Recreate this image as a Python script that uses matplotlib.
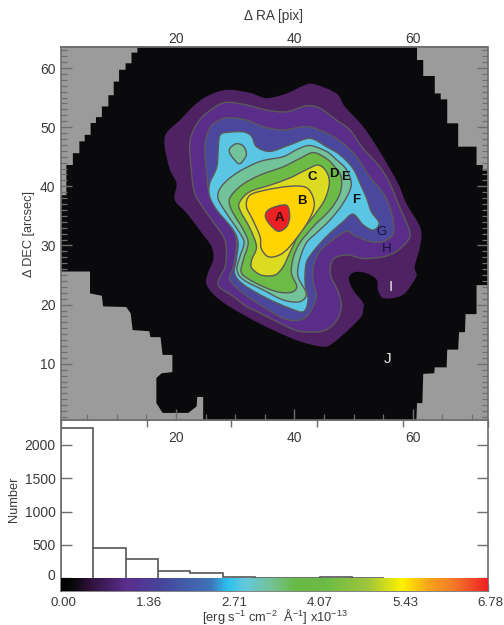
import numpy as np
import matplotlib
matplotlib.use("Agg")
import matplotlib.pyplot as plt
from matplotlib.patches import Polygon, PathPatch
from matplotlib.path import Path
from matplotlib.colors import LinearSegmentedColormap
from matplotlib.transforms import ScaledTranslation
from matplotlib.ticker import MultipleLocator, FixedLocator

plt.rcParams['font.family'] = ['Liberation Sans', 'DejaVu Sans']
plt.rcParams['mathtext.fontset'] = 'custom'
plt.rcParams['mathtext.rm'] = 'Liberation Sans'
plt.rcParams['mathtext.default'] = 'rm'

# Field of view (staircase outline of the observed region), RA pix / DEC arcsec
field_outline = [(13.5,63.6),(13.5,62.6),(12.5,62.6),(12.5,60.8),(11.5,60.8),(11.5,59.7),(10.4,59.7),(10.4,57.7),
    (9.5,57.7),(9.5,55.4),(8.6,55.4),(8.6,53.5),(7.5,53.5),(7.5,51.7),(6.5,51.7),(6.5,50.7),(5.6,50.7),(5.6,48.7),
    (4.6,48.7),(4.6,47.6),(3.7,47.6),(3.7,45.6),(2.6,45.6),(2.6,43.6),(1.5,43.6),(1.5,38.5),(0.6,38.5),(0.6,25.6),
    (5.5,25.6),(5.5,21.9),(7.5,21.5),(7.7,19.7),(11.6,19.6),(12.35,18.55),(12.7,15.7),(15.5,15.5),(15.7,14.5),
    (17.4,14.5),(17.75,11.5),(19.4,11.5),(19.4,8.6),(17.6,8.4),(16.7,7.6),(16.7,3.35),(17.75,1.7),(22.1,1.7),
    (23.5,2.8),(23.6,4.4),(24.6,4.4),(24.6,0.5),(60.6,0.5),(60.7,3.35),(61.6,3.35),(61.75,8.3),(63.6,8.4),(63.7,9.4),
    (65.7,9.4),(65.8,12.4),(67.65,12.4),(67.8,15.35),(68.8,15.35),(68.9,18.4),(70.75,18.4),(70.75,23.3),(72.6,23.3),
    (72.6,42.65),(71.8,42.65),(71.8,43.6),(70.75,43.6),(70.75,46.7),(67.65,46.7),(67.65,50.65),(65.8,50.65),
    (65.8,54.7),(64.7,54.7),(64.7,55.7),(63.7,55.7),(63.7,58.65),(61.75,58.65),(61.75,61.35),(60.7,61.35),(60.7,63.6)]

# Contour levels, outermost to innermost
level_1 = [(43.2,57.3),(47.1,55.7),(48.5,53.5),(51.6,50.1),(54.4,45.9),(57.5,40.5),(58.9,37.1),(61.3,32.9),(61.2,29.8),
    (60.3,26.4),(60.6,24.8),(58.9,22.2),(57.5,21.3),(55.0,21.1),(54.1,22.5),(53.9,24.2),(52.2,25.3),(50.2,25.5),
    (49.2,24.5),(49.9,22.5),(51.6,20.3),(51.6,19.1),(51.3,18.0),(49.4,16.0),(46.5,13.5),(44.8,12.9),(40.9,13.8),
    (36.4,15.7),(31.9,18.0),(27.4,20.8),(25.2,23.3),(25.4,25.3),(26.3,27.6),(26.0,29.8),(24.0,32.6),(21.8,35.5),
    (19.8,37.7),(20.1,40.5),(19.0,42.8),(18.1,46.7),(18.4,49.0),(20.7,51.2),(22.9,53.5),(25.2,55.2),(28.5,56.3),
    (32.5,55.8),(35.3,54.9),(38.7,55.7),(41.5,57.0)]
level_2 = [(28.5,54.2),(31.9,53.75),(35.3,52.9),(38.7,52.6),(42.0,53.6),(44.3,53.2),(47.1,51.2),(49.4,49.5),(51.6,46.4),
    (54.4,43.3),(56.1,40.5),(57.5,37.1),(59.4,32.6),(59.2,30.9),(57.2,29.0),(55.0,28.1),(51.6,27.8),(48.8,28.4),
    (46.5,27.6),(46.1,25.0),(47.4,22.2),(47.9,19.4),(46.8,16.9),(44.6,15.5),(40.9,15.5),(38.1,16.6),(34.2,18.6),
    (31.9,19.7),(29.7,21.4),(27.1,23.4),(28.3,26.4),(28.5,29.3),(28.0,31.5),(25.2,35.5),(23.2,38.8),(22.6,42.8),
    (22.4,47.8),(24.0,51.2),(26.3,53.2)]
level_3 = [(29.1,51.6),(31.9,51.2),(34.7,50.1),(38.1,49.5),(42.0,50.1),(45.4,49.0),(48.2,47.3),(50.5,45.0),(52.7,41.6),
    (55.0,38.8),(56.4,35.5),(56.7,32.1),(55.0,30.7),(52.7,30.7),(49.9,31.8),(48.8,32.4),(46.5,31.0),(44.3,29.0),
    (43.2,26.4),(43.2,23.6),(43.7,21.4),(42.6,18.6),(40.9,17.4),(38.1,17.7),(34.2,20.0),(31.4,21.9),(29.1,24.2),
    (29.7,26.4),(30.2,29.8),(29.9,32.1),(27.7,35.5),(25.7,38.8),(25.2,42.2),(24.9,46.7),(25.7,49.8),(27.4,51.2)]
level_4 = [(28.5,49.1),(31.4,49.2),(32.8,48.4),(33.6,46.7),(35.9,45.9),(39.2,47.0),(42.6,48.1),(45.4,46.7),(47.7,45.3),
    (49.9,43.0),(51.3,40.0),(52.2,38.0),(53.0,35.7),(54.3,33.8),(53.3,32.6),(51.6,33.5),(49.9,35.3),(48.2,34.0),
    (45.4,31.5),(43.2,29.0),(42.0,27.0),(41.8,23.6),(42.3,20.8),(41.5,18.8),(39.2,19.4),(35.3,21.1),(31.4,23.4),
    (29.9,25.3),(30.2,27.6),(30.5,30.4),(29.7,32.6),(26.9,36.0),(25.7,38.3),(25.7,40.5),(26.9,43.3),(27.2,47.3),(27.5,48.7)]
level_5_blob = [(29.1,46.4),(30.2,47.2),(31.4,46.8),(31.9,45.6),(31.6,44.7),(30.7,43.8),(29.7,44.7),(29.1,45.6)]
level_5 = [(42.6,46.9),(45.4,45.9),(47.1,44.5),(48.8,42.8),(49.6,40.2),(48.2,37.1),(46.0,34.3),(43.7,32.1),(42.0,30.4),
    (40.9,27.6),(40.6,24.8),(42.0,21.9),(40.9,20.5),(38.1,20.8),(34.7,22.5),(31.4,24.2),(30.3,25.9),(30.8,28.1),
    (31.5,30.4),(30.8,32.1),(28.5,35.5),(27.1,38.0),(27.7,40.0),(30.2,42.2),(34.2,44.2),(38.1,45.0),(40.4,46.2)]
level_6 = [(43.2,45.7),(45.4,44.7),(46.8,43.3),(47.9,41.6),(47.7,38.8),(46.0,36.0),(43.2,33.2),(40.9,30.4),(39.8,27.9),
    (39.5,25.3),(40.4,23.1),(39.5,22.1),(37.0,22.2),(33.6,23.6),(31.1,25.3),(31.4,27.6),(32.2,30.4),(31.4,32.6),
    (29.4,36.0),(29.1,38.0),(31.1,40.2),(34.2,41.9),(38.1,43.3),(40.9,44.7)]
level_7 = [(44.0,43.6),(45.4,42.5),(45.9,40.5),(45.1,37.7),(43.2,34.9),(40.9,32.1),(39.2,28.7),(38.1,26.4),(36.7,25.0),
    (34.4,25.0),(32.8,26.2),(32.8,27.6),(33.6,29.8),(32.5,32.9),(30.8,36.0),(30.8,37.4),(32.5,39.1),(35.9,40.2),
    (39.2,41.4),(42.0,42.8)]
level_8 = [(39.2,40.0),(42.0,39.8),(43.2,38.0),(43.2,36.0),(41.8,33.2),(39.2,29.8),(37.5,28.4),(35.6,28.1),(34.4,29.5),
    (34.2,31.5),(33.0,34.3),(31.9,36.6),(32.5,38.5),(35.3,39.4)]
level_9 = [(35.6,36.0),(37.3,36.7),(38.8,36.7),(39.2,34.9),(38.7,33.2),(37.3,32.4),(35.9,33.5),(35.1,34.9)]

levels = [level_1, level_2, level_3, level_4, level_5, level_5_blob, level_6, level_7, level_8, level_9]
level_colors = ['#4f2363', '#5a2d8a', '#4a479c', '#5bc6e4', '#72c39a', '#72c39a',
                '#6bbb46', '#dbdc22', '#ffd400', '#ed2024']

region_names = ['A', 'B', 'C', 'D', 'E', 'F', 'G', 'H', 'I', 'J']
region_x = [37.55, 41.2, 43.05, 46.65, 48.6, 50.5, 54.7, 55.65, 56.3, 55.7]
region_y = [34.6, 37.6, 41.6, 42.1, 41.6, 37.7, 32.2, 29.4, 23.0, 10.8]
region_colors = ['#2a1010', '#111111', '#111111', '#111111', '#111111', '#111111', '#14143a', '#14143a', '#e8e8e8', '#e8e8e8']
region_weights = ['bold'] * 6 + ['normal'] * 4

# Ticks
ra_ticks = [20, 40, 60]
dec_ticks = [10, 20, 30, 40, 50, 60]

# Histogram
hist_counts = [2260, 450, 295, 105, 75, 25, 12, 8, 18, 10]
hist_bin_width = 0.514
cbar_ticks = [0.00, 1.36, 2.71, 4.07, 5.43, 6.78]
cbar_labels = ['0.00', '1.36', '2.71', '4.07', '5.43', '6.78']
hist_y_ticks = [0, 500, 1000, 1500, 2000]

cmap_nodes = [(0.0, '#000000'), (0.03, '#0a0a0c'), (0.06, '#2a0f33'), (0.15, '#5a2d8c'), (0.24, '#46479c'),
              (0.35, '#3f74b8'), (0.39, '#2cc0ee'), (0.43, '#62c8dc'), (0.49, '#74c39a'), (0.55, '#69b945'),
              (0.62, '#6bbb46'), (0.72, '#a0c63c'), (0.80, '#fff200'), (0.86, '#f9a61a'), (0.92, '#f47a2a'),
              (1.0, '#ed2024')]

W, H = 504, 625
INK = '#3a3a3a'
EDGE = '#6e6e6e'
FS = 10

fig = plt.figure(figsize=(W / 100, H / 100), dpi=100)
ax = fig.add_axes([61 / W, 1 - 420 / H, 426.5 / W, 373 / H])
ax.set_zorder(3)
ax.set_xlim(0.6, 72.6)
ax.set_ylim(0.5, 63.55)
ax.set_facecolor('#9b9b9b')


def smooth_path(pts):
    # closed Catmull-Rom curve through the traced outline points
    p = np.asarray(pts, float)
    prev, nxt, nxt2 = np.roll(p, 1, axis=0), np.roll(p, -1, axis=0), np.roll(p, -2, axis=0)
    c1 = p + (nxt - prev) / 6
    c2 = nxt - (nxt2 - p) / 6
    verts = [p[0]]
    codes = [Path.MOVETO]
    for a, b, e in zip(c1, c2, nxt):
        verts += [a, b, e]
        codes += [Path.CURVE4] * 3
    return Path(verts, codes)


ax.add_patch(Polygon(field_outline, closed=True, fc='#0a0a0d', ec='none', zorder=1))
for i, (pts, col) in enumerate(zip(levels, level_colors)):
    ec = 'none' if i == 0 else '#5a5a5a'
    ax.add_patch(PathPatch(smooth_path(pts), fc=col, ec=ec, lw=1.0, zorder=1 + i * 0.01))
for n, x, y, c, w in zip(region_names, region_x, region_y, region_colors, region_weights):
    ax.text(x, y, n, color=c, fontsize=11 if n in 'IJ' else 9.5, fontweight=w, ha='center', va='center', zorder=3)

ax.xaxis.set_major_locator(FixedLocator(ra_ticks))
ax.xaxis.set_minor_locator(MultipleLocator(5))
ax.yaxis.set_major_locator(FixedLocator(dec_ticks))
ax.yaxis.set_minor_locator(MultipleLocator(1))
ax.tick_params(axis='y', which='major', direction='in', length=8, width=1, color=EDGE, labelcolor=INK,
               labelsize=FS, left=True, right=True, pad=4)
ax.tick_params(axis='x', which='major', direction='in', length=8, width=1, color=EDGE, labelcolor=INK,
               labelsize=FS, bottom=True, top=False, pad=8)
ax.tick_params(which='minor', direction='in', length=4, width=0.9, color=EDGE, left=True, right=True, bottom=True, top=False)
for s in ax.spines.values():
    s.set_color(EDGE)
    s.set_linewidth(1.2)
top = ax.secondary_xaxis('top')
top.xaxis.set_major_locator(FixedLocator(ra_ticks))
top.tick_params(axis='x', direction='in', length=8, width=1, color=EDGE, labelcolor=INK, labelsize=FS, pad=1)
top.spines['top'].set_color(EDGE)
top.spines['top'].set_linewidth(1.2)
fig.text(273 / W, 1 - 16 / H, 'Δ RA [pix]', fontsize=9.8, color=INK, ha='center', va='center')
fig.text(29 / W, 1 - 234 / H, 'Δ DEC [arcsec]', fontsize=9.2, color=INK, ha='center', va='center', rotation=90)

ah = fig.add_axes([61 / W, 1 - 591 / H, 426.5 / W, 171 / H])
ah.set_xlim(0, 6.78)
ah.set_ylim(-190, 2375)
edges = np.arange(len(hist_counts) + 1) * hist_bin_width
ah.stairs(hist_counts, edges, baseline=0, fill=False, color='#555555', lw=1.2, zorder=2)
ah.vlines(edges[1:4], 0, [min(a, b) for a, b in zip(hist_counts[:3], hist_counts[1:4])], color='#555555', lw=1.2, zorder=2)

cmap = LinearSegmentedColormap.from_list('idl', cmap_nodes, N=512)
ah.imshow(np.linspace(0, 1, 512)[None, :], extent=(0, 6.78, -190, 0), aspect='auto', cmap=cmap, zorder=3,
          interpolation='bilinear')
ah.set_xlim(0, 6.78)
ah.set_ylim(-190, 2375)
ah.xaxis.set_major_locator(FixedLocator(cbar_ticks))
ah.set_xticklabels(cbar_labels)
ah.xaxis.set_minor_locator(MultipleLocator(0.678))
ah.set_yticks(hist_y_ticks)
ah.tick_params(axis='x', which='major', direction='in', length=5, width=1, color=EDGE, labelcolor=INK,
               labelsize=9.6, top=True, bottom=True, pad=4)
ah.tick_params(axis='x', which='minor', direction='in', length=2.5, width=0.8, color=EDGE, top=False, bottom=True)
ah.tick_params(axis='y', direction='in', length=8, width=1, color=EDGE, labelcolor=INK,
               labelsize=FS, left=True, right=True, pad=4)
offset = ScaledTranslation(2.5 / 100, 0, fig.dpi_scale_trans)
for lab in ah.get_xticklabels():
    lab.set_transform(lab.get_transform() + offset)
zero_lab = ah.get_yticklabels()[0]
zero_lab.set_transform(zero_lab.get_transform() + ScaledTranslation(0, 4 / 100, fig.dpi_scale_trans))
for s in ah.spines.values():
    s.set_color(EDGE)
    s.set_linewidth(1.2)
fig.text(14 / W, 1 - 499 / H, 'Number', fontsize=9.2, color=INK, ha='center', va='center', rotation=90)
fig.text(274.5 / W, 1 - 621.5 / H, r'[erg s$^{-1}$ cm$^{-2}$  Å$^{-1}$] x10$^{-13}$', fontsize=9.3, color=INK,
         ha='center', va='baseline')

fig.savefig('out.png', dpi=100)
